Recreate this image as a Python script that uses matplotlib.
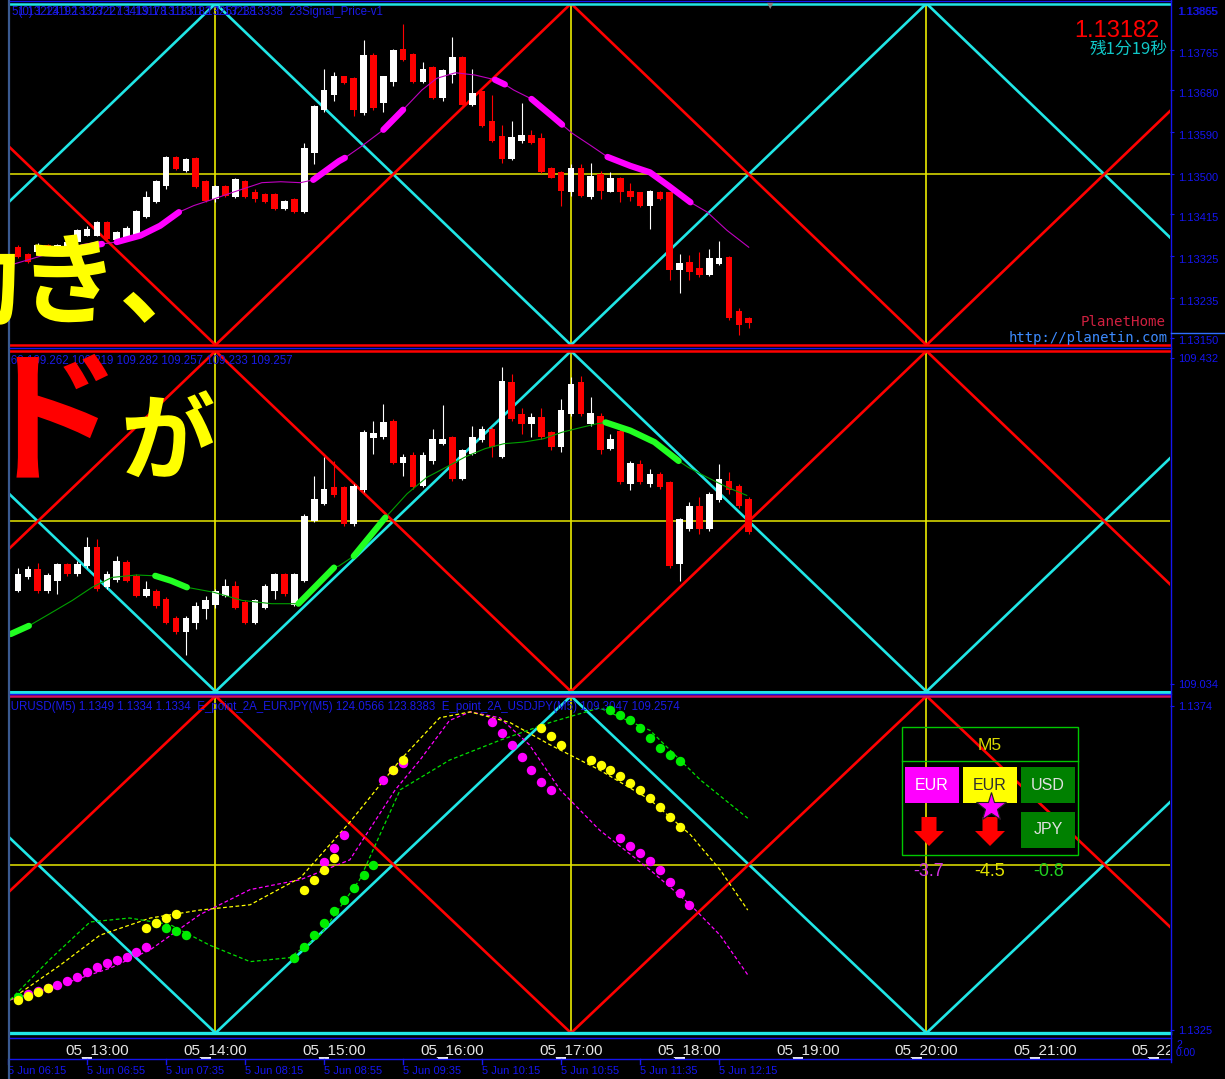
import matplotlib
matplotlib.use('Agg')
import matplotlib.pyplot as plt
from matplotlib.patches import Rectangle, Polygon
from matplotlib.lines import Line2D
from matplotlib.transforms import blended_transform_factory, ScaledTranslation
import numpy as np

# ---------------- data ----------------
# bar index: 0 = the 05_14:00 bar, one bar = 5 minutes
bars = np.arange(-20, 55)

eu_open = [1.13344, 1.13330, 1.13334, 1.13349, 1.13337, 1.13341, 1.13355, 1.13369, 1.13369, 1.13397,
           1.13359, 1.13366, 1.13369, 1.13408, 1.13440, 1.13475, 1.13537, 1.13507, 1.13534, 1.13486,
           1.13447, 1.13474, 1.13451, 1.13486, 1.13463, 1.13458, 1.13458, 1.13426, 1.13447, 1.13420,
           1.13546, 1.13638, 1.13670, 1.13709, 1.13706, 1.13631, 1.13755, 1.13652, 1.13698, 1.13767,
           1.13758, 1.13698, 1.13730, 1.13663, 1.13712, 1.13751, 1.13649, 1.13677, 1.13613, 1.13581,
           1.13532, 1.13571, 1.13583, 1.13578, 1.13514, 1.13504, 1.13461, 1.13514, 1.13451, 1.13500,
           1.13463, 1.13493, 1.13465, 1.13461, 1.13433, 1.13463, 1.13461, 1.13295, 1.13313, 1.13299,
           1.13284, 1.13309, 1.13323, 1.13207, 1.13192]
eu_high = [1.13348, 1.13332, 1.13352, 1.13351, 1.13350, 1.13357, 1.13382, 1.13390, 1.13399, 1.13399,
           1.13378, 1.13390, 1.13424, 1.13465, 1.13488, 1.13539, 1.13539, 1.13534, 1.13536, 1.13488,
           1.13476, 1.13476, 1.13491, 1.13488, 1.13468, 1.13460, 1.13460, 1.13445, 1.13449, 1.13567,
           1.13649, 1.13726, 1.13719, 1.13711, 1.13708, 1.13786, 1.13760, 1.13711, 1.13767, 1.13822,
           1.13760, 1.13740, 1.13732, 1.13725, 1.13793, 1.13753, 1.13726, 1.13679, 1.13670, 1.13606,
           1.13613, 1.13652, 1.13595, 1.13588, 1.13516, 1.13506, 1.13521, 1.13521, 1.13523, 1.13507,
           1.13504, 1.13495, 1.13482, 1.13463, 1.13467, 1.13465, 1.13463, 1.13330, 1.13327, 1.13334,
           1.13341, 1.13357, 1.13325, 1.13214, 1.13194]
eu_low = [1.13320, 1.13311, 1.13332, 1.13335, 1.13335, 1.13339, 1.13353, 1.13367, 1.13367, 1.13360,
          1.13357, 1.13364, 1.13367, 1.13406, 1.13438, 1.13468, 1.13509, 1.13505, 1.13470, 1.13441,
          1.13441, 1.13452, 1.13449, 1.13449, 1.13441, 1.13438, 1.13424, 1.13424, 1.13418, 1.13418,
          1.13521, 1.13634, 1.13656, 1.13692, 1.13624, 1.13627, 1.13638, 1.13634, 1.13689, 1.13743,
          1.13696, 1.13696, 1.13661, 1.13656, 1.13694, 1.13647, 1.13645, 1.13601, 1.13569, 1.13525,
          1.13530, 1.13567, 1.13565, 1.13502, 1.13491, 1.13433, 1.13454, 1.13452, 1.13447, 1.13447,
          1.13461, 1.13440, 1.13443, 1.13431, 1.13383, 1.13446, 1.13274, 1.13246, 1.13274, 1.13281,
          1.13282, 1.13306, 1.13189, 1.13157, 1.13171]
eu_close = [1.13323, 1.13313, 1.13349, 1.13337, 1.13348, 1.13355, 1.13380, 1.13383, 1.13397, 1.13362,
            1.13376, 1.13385, 1.13422, 1.13451, 1.13486, 1.13537, 1.13511, 1.13532, 1.13472, 1.13443,
            1.13474, 1.13454, 1.13489, 1.13451, 1.13447, 1.13440, 1.13426, 1.13443, 1.13420, 1.13557,
            1.13645, 1.13680, 1.13709, 1.13694, 1.13638, 1.13755, 1.13641, 1.13709, 1.13765, 1.13745,
            1.13698, 1.13724, 1.13663, 1.13723, 1.13751, 1.13649, 1.13673, 1.13603, 1.13571, 1.13532,
            1.13580, 1.13583, 1.13567, 1.13504, 1.13493, 1.13465, 1.13514, 1.13454, 1.13497, 1.13465,
            1.13493, 1.13461, 1.13451, 1.13433, 1.13465, 1.13448, 1.13295, 1.13311, 1.13291, 1.13284,
            1.13320, 1.13320, 1.13192, 1.13178, 1.13182]

uj_open = [109.148, 109.164, 109.174, 109.147, 109.160, 109.180, 109.168, 109.178, 109.201, 109.152,
           109.161, 109.183, 109.166, 109.142, 109.148, 109.138, 109.115, 109.097, 109.108, 109.125,
           109.131, 109.142, 109.154, 109.134, 109.109, 109.127, 109.148, 109.168, 109.131, 109.160,
           109.233, 109.254, 109.274, 109.274, 109.229, 109.270, 109.334, 109.335, 109.355, 109.304,
           109.313, 109.276, 109.306, 109.327, 109.335, 109.284, 109.315, 109.331, 109.345, 109.311,
           109.402, 109.363, 109.351, 109.359, 109.341, 109.323, 109.363, 109.402, 109.351, 109.361,
           109.321, 109.343, 109.278, 109.302, 109.278, 109.290, 109.280, 109.180, 109.223, 109.251,
           109.223, 109.258, 109.282, 109.276, 109.260]
uj_high = [109.176, 109.178, 109.182, 109.169, 109.182, 109.182, 109.184, 109.213, 109.211, 109.172,
           109.190, 109.185, 109.168, 109.160, 109.150, 109.140, 109.117, 109.117, 109.134, 109.142,
           109.150, 109.162, 109.160, 109.136, 109.138, 109.156, 109.170, 109.170, 109.170, 109.241,
           109.288, 109.311, 109.306, 109.276, 109.278, 109.344, 109.355, 109.376, 109.357, 109.315,
           109.317, 109.317, 109.345, 109.374, 109.337, 109.321, 109.349, 109.349, 109.347, 109.420,
           109.412, 109.370, 109.365, 109.370, 109.343, 109.382, 109.408, 109.410, 109.384, 109.365,
           109.339, 109.345, 109.306, 109.307, 109.296, 109.292, 109.282, 109.237, 109.256, 109.262,
           109.268, 109.302, 109.292, 109.278, 109.262]
uj_low = [109.146, 109.162, 109.145, 109.145, 109.144, 109.166, 109.166, 109.176, 109.148, 109.150,
          109.159, 109.158, 109.140, 109.140, 109.127, 109.107, 109.095, 109.070, 109.101, 109.113,
          109.127, 109.140, 109.125, 109.107, 109.107, 109.125, 109.138, 109.142, 109.129, 109.158,
          109.231, 109.252, 109.262, 109.227, 109.227, 109.268, 109.315, 109.333, 109.302, 109.288,
          109.272, 109.274, 109.302, 109.325, 109.282, 109.283, 109.313, 109.329, 109.311, 109.309,
          109.355, 109.339, 109.335, 109.333, 109.319, 109.317, 109.361, 109.361, 109.349, 109.315,
          109.319, 109.278, 109.270, 109.278, 109.274, 109.272, 109.176, 109.160, 109.221, 109.217,
          109.221, 109.256, 109.266, 109.249, 109.217]
uj_close = [109.168, 109.174, 109.147, 109.167, 109.180, 109.168, 109.180, 109.201, 109.150, 109.168,
            109.184, 109.160, 109.142, 109.150, 109.129, 109.109, 109.097, 109.115, 109.129, 109.136,
            109.148, 109.154, 109.127, 109.109, 109.136, 109.154, 109.168, 109.144, 109.168, 109.239,
            109.260, 109.272, 109.264, 109.229, 109.276, 109.341, 109.340, 109.353, 109.304, 109.311,
            109.274, 109.313, 109.333, 109.333, 109.284, 109.319, 109.335, 109.345, 109.323, 109.404,
            109.357, 109.351, 109.359, 109.335, 109.323, 109.368, 109.400, 109.363, 109.364, 109.319,
            109.333, 109.280, 109.304, 109.280, 109.290, 109.274, 109.178, 109.235, 109.251, 109.223,
            109.266, 109.284, 109.270, 109.251, 109.219]

# moving averages (knots) + thick (signal) stretches as knot index ranges
eu_ma_k = [-20.75, -16.9, -13.5, -11.5, -10.0, -7.6, -5.6, -3.7, -2.2, -0.2, 1.7, 4.7, 6.6, 8.6,
           9.9, 12.5, 13.1, 14.8, 17.0, 19.0, 20.9, 22.4, 24.3, 26.3, 28.3, 29.3, 30.2, 32.0,
           34.1, 35.1, 36.1, 38.1, 39.7, 42.0, 44.0, 45.9, 48.1, 49.8, 51.8, 54.0]
eu_ma_v = [1.13306, 1.13330, 1.13344, 1.13351, 1.13355, 1.13369, 1.13390, 1.13419, 1.13433, 1.13447,
           1.13461, 1.13482, 1.13484, 1.13482, 1.13488, 1.13528, 1.13535, 1.13560, 1.13595, 1.13638,
           1.13680, 1.13705, 1.13717, 1.13712, 1.13702, 1.13692, 1.13680, 1.13661, 1.13624, 1.13606,
           1.13588, 1.13560, 1.13537, 1.13518, 1.13504, 1.13475, 1.13440, 1.13419, 1.13380, 1.13344]
eu_ma_thick = [(2, 3), (4, 7), (14, 16), (18, 19), (24, 25), (27, 29), (32, 36)]

uj_ma_k = [-20.75, -18.9, -16.9, -14.5, -12.5, -10.5, -8.0, -6.1, -4.5, -2.9, -0.2, 2.7, 5.7, 8.4,
           12.0, 12.5, 14.0, 17.2, 19.4, 21.4, 23.3, 25.3, 27.3, 29.2, 31.2, 33.2, 35.1, 37.1,
           38.5, 39.5, 42.0, 44.45, 46.9, 47.9, 49.8, 51.8, 53.8]
uj_ma_v = [109.095, 109.105, 109.119, 109.136, 109.152, 109.164, 109.167, 109.166, 109.160, 109.152,
           109.146, 109.136, 109.132, 109.132, 109.176, 109.178, 109.190, 109.237, 109.266, 109.286,
           109.298, 109.311, 109.321, 109.327, 109.329, 109.333, 109.341, 109.347, 109.351, 109.353,
           109.343, 109.329, 109.306, 109.298, 109.286, 109.274, 109.264]
uj_ma_thick = [(0, 1), (7, 9), (13, 14), (16, 17), (29, 32)]

# lower window: three currency-strength lines (dashed) and signal dots
mag_line_k = [-20.8, -15.7, -10.7, -6.6, -1.6, 3.5, 8.6, 13.6, 18.2, 20.7, 23.7, 25.8, 28.8, 31.8,
              34.9, 38.9, 44.0, 48.1, 51.1, 53.9]
mag_line_v = [1.13295, 1.13318, 1.13343, 1.13371, 1.13424, 1.13462, 1.13477, 1.13507, 1.13613, 1.13658,
              1.13718, 1.13731, 1.13722, 1.13681, 1.13613, 1.13552, 1.13492, 1.13439, 1.13393, 1.13333]
yel_line_k = [-20.8, -15.7, -11.7, -6.6, -1.6, 3.5, 8.6, 13.6, 18.7, 22.7, 25.8, 29.8, 33.9, 38.9,
              44.0, 48.1, 51.1, 53.9]
yel_line_v = [1.13295, 1.13348, 1.13393, 1.13419, 1.13431, 1.13439, 1.13480, 1.13564, 1.13658, 1.13722,
              1.13731, 1.13715, 1.13681, 1.13643, 1.13598, 1.13545, 1.13492, 1.13431]
grn_line_k = [-20.8, -16.8, -12.7, -8.7, -4.6, -0.6, 3.5, 7.5, 10.6, 14.6, 18.7, 23.7, 28.8, 33.9,
              38.9, 44.0, 49.1, 53.9]
grn_line_v = [1.13295, 1.13356, 1.13413, 1.13419, 1.13409, 1.13378, 1.13353, 1.13359, 1.13393, 1.13477,
              1.13613, 1.13658, 1.13688, 1.13715, 1.13737, 1.13703, 1.13628, 1.13570]

mag_dot_k = [-19, -18, -17, -16, -15, -14, -13, -12, -11, -10, -9, -8, -7,
             11, 12, 13, 17, 18, 19, 28, 29, 30, 31, 32, 33, 34, 41, 42, 43, 44, 45, 46, 47, 48]
mag_dot_v = [1.13304, 1.13309, 1.13313, 1.13318, 1.13324, 1.13330, 1.13337, 1.13345, 1.13351, 1.13356,
             1.13360, 1.13368, 1.13375, 1.13504, 1.13525, 1.13545, 1.13628, 1.13643, 1.13654,
             1.13715, 1.13699, 1.13681, 1.13663, 1.13643, 1.13625, 1.13613, 1.13540, 1.13528, 1.13517,
             1.13505, 1.13492, 1.13474, 1.13457, 1.13439]
yel_dot_k = [-20, -19, -18, -17, -7, -6, -5, -4, 9, 10, 11, 12, 18, 19, 33, 34, 35, 38, 39, 40, 41,
             42, 43, 44, 45, 46, 47]
yel_dot_v = [1.13295, 1.13301, 1.13307, 1.13313, 1.13404, 1.13412, 1.13419, 1.13425, 1.13461, 1.13477,
             1.13492, 1.13510, 1.13643, 1.13658, 1.13706, 1.13694, 1.13681, 1.13658, 1.13650, 1.13643,
             1.13634, 1.13623, 1.13613, 1.13601, 1.13587, 1.13572, 1.13557]
grn_dot_k = [-20, -6, -5, -4, -3, 8, 9, 10, 11, 12, 13, 14, 15, 16, 40, 41, 42, 43, 44, 45, 46, 47]
grn_dot_v = [1.13300, 1.13412, 1.13404, 1.13400, 1.13393, 1.13359, 1.13375, 1.13393, 1.13411, 1.13429,
             1.13447, 1.13465, 1.13484, 1.13500, 1.13734, 1.13727, 1.13719, 1.13706, 1.13691, 1.13676,
             1.13665, 1.13656]

# price scale ticks of each window
eu_ticks = [1.13765, 1.13680, 1.13590, 1.13500, 1.13415, 1.13325, 1.13235, 1.13150]
uj_ticks = [109.432, 109.034]
ind_ticks = [1.1374, 1.1325]

hour_labels = ['05_13:00', '05_14:00', '05_15:00', '05_16:00', '05_17:00', '05_18:00',
               '05_19:00', '05_20:00', '05_21:00', '05_22:00']
hour_bars = [-12, 0, 12, 24, 36, 48, 60, 72, 84, 96]
sub_labels = ['5 Jun 06:15', '5 Jun 06:55', '5 Jun 07:35', '5 Jun 08:15', '5 Jun 08:55',
              '5 Jun 09:35', '5 Jun 10:15', '5 Jun 10:55', '5 Jun 11:35', '5 Jun 12:15']
sub_bars = [-21, -13, -5, 3, 11, 19, 27, 35, 43, 51]

# zigzag guide vertices (every 3 hours)
zz_k = [-36, 0, 36, 72, 108]

strength_names = ['EUR', 'EUR', 'USD', 'JPY']
strength_vals = ['-3.7', '-4.5', '-0.8']

# ---------------- figure ----------------
W, H = 1225, 1079
BLUE = '#1515F0'
CYAN = '#20E6E6'
RED = '#FF0000'
YEL = '#FFFF00'
JP = ['Noto Sans CJK JP', 'DejaVu Sans']
SANS = ['Liberation Sans', 'DejaVu Sans']


def fx(x):
    return x / W


def fy(y):
    return 1 - y / H


fig = plt.figure(figsize=(W / 100, H / 100), dpi=100, facecolor='black')
XMIN, XMAX = -20.81, 96.66


def panel(y0, y1, lo, hi, ticks, fmt, shift=0.0):
    ax = fig.add_axes([fx(10), fy(y1), (1170 - 10) / W, (y1 - y0) / H])
    ax.set_facecolor('black')
    for s in ax.spines.values():
        s.set_visible(False)
    ax.set_xlim(XMIN, XMAX)
    ax.set_ylim(lo, hi)
    ax.tick_params(axis='x', bottom=False, labelbottom=False)
    ax.yaxis.tick_right()
    ax.set_yticks(ticks)
    ax.set_yticklabels([fmt % t for t in ticks], fontfamily=SANS)
    ax.tick_params(axis='y', colors=BLUE, labelsize=8, length=3, width=0.8, pad=3)
    if shift:
        off = ScaledTranslation(0, -shift / 100, fig.dpi_scale_trans)
        for lab in ax.get_yticklabels():
            lab.set_transform(lab.get_transform() + off)
    return ax


ax1 = panel(3.5, 345, 1.13135, 1.13865, eu_ticks, '%.5f', shift=2.5)
ax2 = panel(351, 691.5, 109.025, 109.440, uj_ticks, '%.3f')
ax3 = panel(696, 1033, 1.13245, 1.13755, ind_ticks, '%.4f')


def guides(ax, lo, hi, cyan_top_first):
    up = [lo, hi, lo, hi, lo]
    dn = [hi, lo, hi, lo, hi]
    cy, rd = (up, dn) if cyan_top_first else (dn, up)
    for k in (0, 36, 72):
        ax.axvline(k, color=YEL, lw=1.1, zorder=1)
    ax.axhline((lo + hi) / 2, color='#E6E600', lw=1.1, zorder=1)
    ax.plot(zz_k, cy, color=CYAN, lw=1.9, zorder=2)
    ax.plot(zz_k, rd, color=RED, lw=1.9, zorder=2)


guides(ax1, 1.13135, 1.13865, True)
guides(ax2, 109.025, 109.440, False)
guides(ax3, 1.13245, 1.13755, False)

# window edge levels
ax1.axhline(1.13865, color=CYAN, lw=1.8, clip_on=False)
ax1.axhline(1.13135, color=RED, lw=1.8, clip_on=False)
ax2.axhline(109.440, color=RED, lw=1.8, clip_on=False)
ax2.axhline(109.025, color=CYAN, lw=2.2, clip_on=False)
ax3.axhline(1.13755, color='#D01060', lw=1.8, clip_on=False)
ax3.axhline(1.13245, color=CYAN, lw=2.4, clip_on=False)


def candles(ax, o, h, l, c):
    o, h, l, c = map(np.asarray, (o, h, l, c))
    col = np.where(c >= o, '#FFFFFF', RED)
    ax.vlines(bars, l, h, colors=col, lw=0.8, zorder=4)
    span = ax.get_ylim()[1] - ax.get_ylim()[0]
    body = np.maximum(np.abs(c - o), span * 0.004)
    ax.bar(bars, body, bottom=np.minimum(o, c), width=0.68, color=col, lw=0, zorder=5)


def ma(ax, k, v, thick, thin_col, thick_col):
    ax.plot(k, v, color=thin_col, lw=0.8, zorder=6)
    for a, b in thick:
        ax.plot(k[a:b + 1], v[a:b + 1], color=thick_col, lw=4.5,
                solid_capstyle='round', zorder=6)


candles(ax1, eu_open, eu_high, eu_low, eu_close)
ma(ax1, eu_ma_k, eu_ma_v, eu_ma_thick, '#C000C0', '#FF00FF')
candles(ax2, uj_open, uj_high, uj_low, uj_close)
ma(ax2, uj_ma_k, uj_ma_v, uj_ma_thick, '#00A000', '#22FF22')

for k, v, c in ((mag_line_k, mag_line_v, '#FF00FF'), (yel_line_k, yel_line_v, YEL),
                (grn_line_k, grn_line_v, '#00E000')):
    ax3.plot(k, v, color=c, lw=0.9, ls=(0, (3, 2)), zorder=3)
ax3.scatter(grn_dot_k, grn_dot_v, s=46, color='#00EE00', lw=0, zorder=5)
ax3.scatter(yel_dot_k, yel_dot_v, s=46, color=YEL, lw=0, zorder=6)
ax3.scatter(mag_dot_k, mag_dot_v, s=46, color='#FF00FF', lw=0, zorder=4)


# ---------------- frame lines ----------------
def fline(xs, ys, color, lw):
    fig.add_artist(Line2D([fx(x) for x in xs], [fy(y) for y in ys], color=color, lw=lw,
                          transform=fig.transFigure))


fline([9, 9], [0, H], '#3A5A90', 1.6)
fline([1171, 1171], [0, 1062], BLUE, 1.0)
for yy in (1.2, 348, 694, 1038, 1059):
    fline([10, 1171], [yy, yy], BLUE, 1.0)
fline([1171, W], [333, 333], '#3070FF', 1.0)

# ---------------- time axis ----------------
tb = blended_transform_factory(ax3.transData, fig.transFigure)
clip = Rectangle((fx(10), 0), fx(1160), fy(1039), transform=fig.transFigure, visible=False)
fig.add_artist(clip)
for k, lab in zip(hour_bars, hour_labels):
    t = ax3.text(k, fy(1050), lab, transform=tb, color='#E6E6E6', fontsize=11,
                 fontfamily=SANS, ha='center', va='center', clip_on=True)
    t.set_clip_path(clip)
    ax3.add_artist(Line2D([k - 1.4, k - 0.6], [fy(1057.5), fy(1057.5)], color='white', lw=1.4,
                          transform=tb, clip_on=False))
for k, lab in zip(sub_bars, sub_labels):
    t = ax3.text(k, fy(1071), lab, transform=tb, color=BLUE, fontsize=8,
                 fontfamily=SANS, ha='left', va='center', clip_on=True)
    t.set_clip_path(clip)
    ax3.add_artist(Line2D([k, k], [fy(1059), fy(1064)], color=BLUE, lw=1.0,
                          transform=tb, clip_on=False))
fig.text(fx(1176), fy(1045), '2', color=BLUE, fontsize=7.5, fontfamily=SANS, va='center')
fig.text(fx(1176), fy(1053), '0.00', color=BLUE, fontsize=7.5, fontfamily=SANS, va='center')

# ---------------- headers / labels ----------------
hdr = dict(color='#1A1AE6', fontsize=8.3, fontfamily=SANS, va='center', clip_on=True)
ax1.text(fx(12), fy(12), '5(0) 1.13192 1.13227 1.13178 1.13182 1.13238', transform=fig.transFigure, **hdr)
ax1.text(fx(18), fy(12), '1.13224 1.13327 1.13419 1.13183 1.13257 1.13338  23Signal_Price-v1',
         transform=fig.transFigure, **hdr)
ax2.text(-0.024, 0.972, '109.260 109.262 109.219 109.282 109.257 109.233 109.257',
         transform=ax2.transAxes, **hdr)
ax3.text(-0.006, 0.968, 'EURUSD(M5) 1.1349 1.1334 1.1334  E_point_2A_EURJPY(M5) 124.0566 123.8383  '
         'E_point_2A_USDJPY(M5) 109.3047 109.2574', transform=ax3.transAxes, **hdr)
fig.text(fx(1177), fy(12), '1.13865', color=BLUE, fontsize=8, fontfamily=SANS, va='center')
fig.text(fx(1178), fy(12), '1.13855', color=BLUE, fontsize=8, fontfamily=SANS, va='center', alpha=0.7)
fig.text(fx(770), fy(6), '\u25bc', color='#808080', fontsize=6, ha='center', va='center')

fig.text(fx(1159), fy(31), '1.13182', color=RED, fontsize=17, fontfamily=SANS, ha='right', va='center')
fig.text(fx(1168), fy(49), '残1分19秒', color='#10C8C8', fontsize=12, fontfamily=JP,
         ha='right', va='center')
fig.text(fx(1166), fy(322), 'PlanetHome', color='#D02040', fontsize=10.2, fontfamily='DejaVu Sans Mono',
         ha='right', va='center')
fig.text(fx(1168), fy(338), 'http://planetin.com', color='#3D8BFF', fontsize=10,
         fontfamily='DejaVu Sans Mono', ha='right', va='center')


# ---------------- strength box ----------------
def frect(x0, y0, x1, y1, **kw):
    fig.add_artist(Rectangle((fx(x0), fy(y1)), fx(x1) - fx(x0), fy(y0) - fy(y1),
                             transform=fig.transFigure, **kw))


frect(902, 727, 1078, 855, fill=False, ec='#00C800', lw=1.0, zorder=10)
fline([902, 1078], [761, 761], '#00C800', 1.0)
fig.text(fx(990), fy(745), 'M5', color='#D8D800', fontsize=12.5, fontfamily=SANS,
         ha='center', va='center', zorder=11)
boxes = [(905, 767, '#FF00FF', '#FFFFFF'), (963, 767, '#FFFF00', '#303030'),
         (1021, 767, '#008000', '#E0E0E0'), (1021, 812, '#008000', '#E0E0E0')]
for (bx, by, fc, tc), name in zip(boxes, strength_names):
    frect(bx, by, bx + 54, by + 36, fc=fc, ec='none', zorder=10)
    fig.text(fx(bx + 27), fy(by + 18), name, color=tc, fontsize=11.5, fontfamily=SANS,
             ha='center', va='center', zorder=11)
for cx in (929, 990):
    pts = [(cx - 7.5, 817), (cx + 7.5, 817), (cx + 7.5, 831), (cx + 15, 831), (cx, 846),
           (cx - 15, 831), (cx - 7.5, 831)]
    fig.add_artist(Polygon([(fx(a), fy(b)) for a, b in pts], closed=True, fc=RED, ec='none',
                           transform=fig.transFigure, zorder=11))
fig.add_artist(Line2D([fx(991)], [fy(807)], marker='*', ms=22, mfc='#FF00FF', mec='#202020',
                      mew=0.8, transform=fig.transFigure, zorder=12))
for cx, val, col in zip((929, 990, 1049), strength_vals, ('#D030E0', '#E0E000', '#20D020')):
    fig.text(fx(cx), fy(871), val, color=col, fontsize=13, fontfamily=SANS,
             ha='center', va='center', zorder=11)

# ---------------- overlay caption ----------------
fig.text(fx(-80), fy(316), '動き、', color=YEL, fontsize=72, fontweight='bold', fontfamily=JP,
         ha='left', va='baseline', zorder=20)
fig.text(fx(-23), fy(468), 'ド', color=RED, fontsize=104, fontweight='bold', fontfamily=JP,
         ha='left', va='baseline', zorder=20)
fig.text(fx(120), fy(472), 'が', color=YEL, fontsize=68, fontweight='bold', fontfamily=JP,
         ha='left', va='baseline', zorder=20)

fig.savefig('out.png', dpi=100, facecolor='black')
